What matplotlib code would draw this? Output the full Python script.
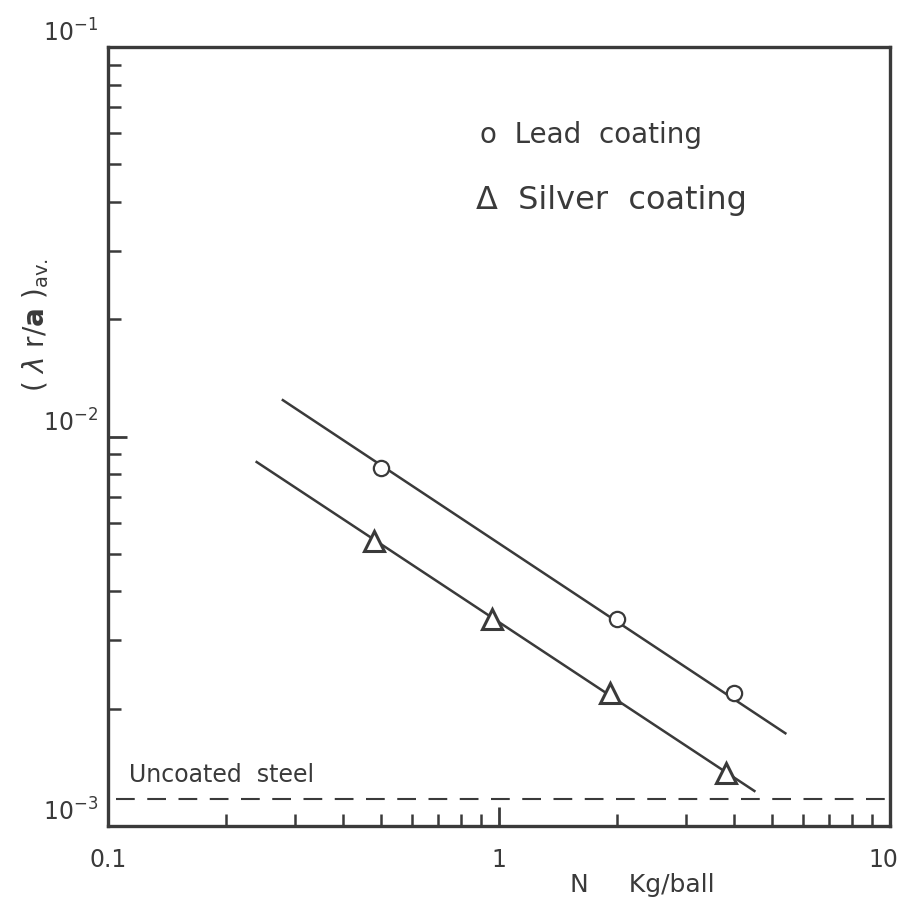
import matplotlib
matplotlib.use('Agg')
import matplotlib.pyplot as plt
from matplotlib.transforms import offset_copy

# data
lead_load = [0.5, 2.0, 4.0]
lead_wear = [8.3e-3, 3.4e-3, 2.2e-3]
lead_line_x = [0.28, 5.4]
lead_line_y = [1.24e-2, 1.73e-3]

silver_load = [0.48, 0.96, 1.92, 3.8]
silver_wear = [5.4e-3, 3.4e-3, 2.2e-3, 1.37e-3]
silver_line_x = [0.24, 4.5]
silver_line_y = [8.6e-3, 1.23e-3]

uncoated_x = [0.105, 9.7]
uncoated_y = [1.17e-3, 1.17e-3]

x_ticks = [0.1, 1, 10]
x_ticklabels = ['0.1', '1', '10']
y_ticks = [1e-3, 1e-2, 1e-1]
y_ticklabels = ['$10^{-3}$', '$10^{-2}$', '$10^{-1}$']

ink = '#3a3a3a'
W, H = 901, 915

fig = plt.figure(figsize=(W / 100, H / 100), dpi=100)
ax = fig.add_axes([108 / W, 1 - 826 / H, (890 - 108) / W, (826 - 47) / H])
ax.set_xscale('log')
ax.set_yscale('log')
ax.set_xlim(0.1, 10)
ax.set_ylim(1e-3, 1e-1)

# fitted lines
ax.plot(lead_line_x, lead_line_y, color=ink, lw=1.8, zorder=2)
ax.plot(silver_line_x, silver_line_y, color=ink, lw=1.8, zorder=2)
ax.plot(uncoated_x, uncoated_y, color=ink, lw=1.5, ls=(0, (9, 6)), zorder=2)

# data points
ax.plot(lead_load, lead_wear, 'o', ms=11, mfc='white', mec=ink, mew=1.6, zorder=3)
ax.plot(silver_load, silver_wear, '^', ms=14, mfc='white', mec=ink, mew=2.2, zorder=3)

# axes look
for s in ax.spines.values():
    s.set_linewidth(2.4)
    s.set_color(ink)

ax.set_xticks(x_ticks)
ax.set_xticklabels(x_ticklabels)
ax.set_yticks(y_ticks)
ax.set_yticklabels(y_ticklabels, va='bottom')
ax.tick_params(which='major', direction='in', length=14, width=2, color=ink,
               labelsize=17, labelcolor=ink, top=False, right=False)
ax.tick_params(axis='x', which='major', pad=16)
ax.tick_params(axis='y', which='major', pad=7)
ax.tick_params(which='minor', direction='in', length=9, width=1.8, color=ink,
               top=False, right=False, labelleft=False, labelbottom=False)

# keep the "10" label inside the figure
last = ax.get_xticklabels()[-1]
last.set_ha('right')
last.set_transform(offset_copy(last.get_transform(), fig=fig, x=8, units='dots'))

# annotations
ax.text(0.113, 1.26e-3, 'Uncoated  steel', fontsize=17, color=ink, va='bottom')
fig.text(480 / W, 1 - 135 / H, 'o  Lead  coating', fontsize=20, color=ink, va='center')
fig.text(476 / W, 1 - 200 / H, 'Δ  Silver  coating', fontsize=23, color=ink, va='center')

fig.text(36 / W, 1 - 325 / H, r'( $\lambda$ r/$\mathbf{a}$ )$_{\rm av.}$', fontsize=20,
         color=ink, rotation=90, ha='center', va='center')
fig.text(642 / W, 1 - 885 / H, 'N     Kg/ball', fontsize=18, color=ink,
         ha='center', va='center')

fig.savefig('out.png', dpi=100)
